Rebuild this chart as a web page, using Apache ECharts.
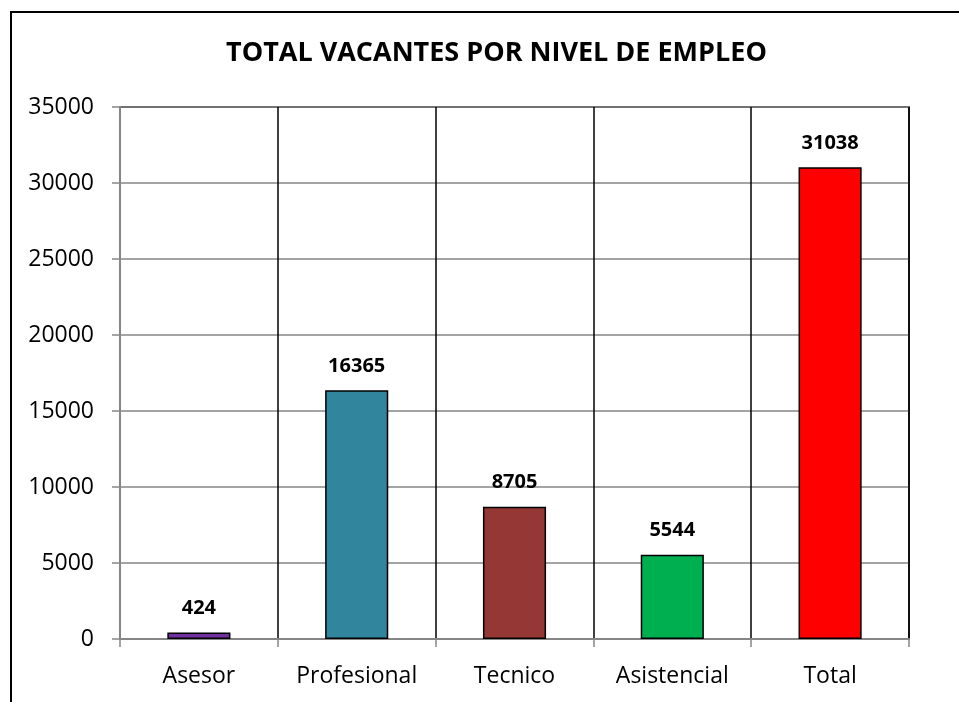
<!DOCTYPE html>
<html>
<head>
<meta charset="utf-8">
<script src="https://cdn.jsdelivr.net/npm/echarts@6/dist/echarts.min.js"></script>
<style>
  html, body { margin: 0; padding: 0; background: #fff; }
  #frame { position: absolute; left: 10px; top: 11px; width: 960px; height: 700px; border: 2px solid #000; box-sizing: border-box; }
  #chart { position: absolute; left: 0; top: 0; width: 959px; height: 702px; }
</style>
</head>
<body>
<div id="frame"></div>
<div id="chart"></div>
<script>
// datos del grafico
const titleText = 'TOTAL VACANTES POR NIVEL DE EMPLEO';
const categories = ['Asesor', 'Profesional', 'Tecnico', 'Asistencial', 'Total'];
const values = [424, 16365, 8705, 5544, 31038];
const barColors = ['#7030A0', '#31859C', '#953735', '#00B050', '#FF0000'];

const FONT = '"Open Sans", Lato, sans-serif';

const chart = echarts.init(document.getElementById('chart'), null, { renderer: 'canvas' });

chart.setOption({
  animation: false,
  backgroundColor: 'transparent',
  title: {
    text: titleText,
    left: 221,
    top: 35,
    textStyle: { fontFamily: FONT, fontWeight: 'bold', fontSize: 27, color: '#000' }
  },
  grid: {
    left: 120, top: 107, right: 50, bottom: 63,
    show: true, borderColor: '#000', borderWidth: 1.5, backgroundColor: '#fff'
  },
  xAxis: {
    type: 'category',
    data: categories,
    axisLine: { lineStyle: { color: '#868686', width: 2 } },
    axisTick: { show: true, length: 8, lineStyle: { color: '#868686', width: 1.5 } },
    axisLabel: { fontFamily: FONT, fontSize: 23, color: '#000', margin: 26 },
    splitLine: { show: true, lineStyle: { color: '#000', width: 1.5 } }
  },
  yAxis: {
    type: 'value',
    min: 0, max: 35000, interval: 5000,
    axisLine: { show: true, lineStyle: { color: '#868686', width: 2 } },
    axisTick: { show: true, length: 8, lineStyle: { color: '#868686', width: 1.5 } },
    axisLabel: { fontFamily: FONT, fontSize: 23, color: '#000', margin: 26, formatter: v => String(v) },
    splitLine: { show: true, lineStyle: { color: '#868686', width: 1.5 } }
  },
  series: [{
    type: 'bar',
    barWidth: '40%',
    data: values.map((v, i) => ({
      value: v,
      itemStyle: { color: barColors[i], borderColor: '#000', borderWidth: 1.5 }
    })),
    label: {
      show: true, position: 'top', distance: 14,
      fontFamily: FONT, fontWeight: 'bold', fontSize: 20, color: '#000'
    }
  }]
});
</script>
</body>
</html>
